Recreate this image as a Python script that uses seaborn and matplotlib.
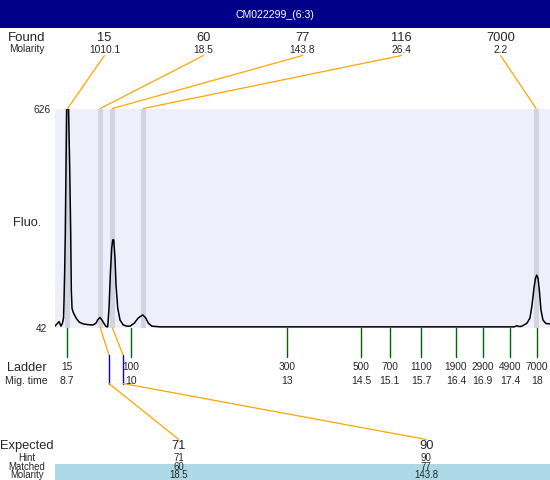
import numpy as np
import pandas as pd
import matplotlib
matplotlib.use("Agg")
import matplotlib.pyplot as plt
import seaborn as sns
from matplotlib.patches import Rectangle

# ---------------- data ----------------
title = "CM022299_(6:3)"

found_sizes = ["15", "60", "77", "116", "7000"]
found_molarity = ["1010.1", "18.5", "143.8", "26.4", "2.2"]
found_times = [8.71, 9.36, 9.60, 10.21, 17.99]

ladder_sizes = ["15", "100", "300", "500", "700", "1100", "1900", "2900", "4900", "7000"]
ladder_times = [8.70, 9.96, 13.05, 14.52, 15.09, 15.71, 16.40, 16.93, 17.48, 18.00]
ladder_time_labels = ["8.7", "10", "13", "14.5", "15.1", "15.7", "16.4", "16.9", "17.4", "18"]

expected_sizes = ["71", "90"]
hint_sizes = ["71", "90"]
matched_sizes = ["60", "77"]
matched_molarity = ["18.5", "143.8"]
expected_times = [9.53, 9.81]
matched_found_index = [1, 2]

trace_time = [8.462, 8.502, 8.542, 8.581, 8.611, 8.631, 8.641, 8.654, 8.666, 8.680,
              8.694, 8.730, 8.753, 8.773, 8.785, 8.799, 8.819, 8.839, 8.878, 8.938,
              9.017, 9.116, 9.215, 9.274, 9.314, 9.353, 9.393, 9.433, 9.472, 9.506,
              9.532, 9.557, 9.585, 9.605, 9.625, 9.650, 9.670, 9.704, 9.750, 9.815,
              9.882, 9.948, 10.033, 10.112, 10.199, 10.258, 10.310, 10.377, 10.542, 12.0,
              14.0, 16.0, 17.551, 17.611, 17.650, 17.690, 17.749, 17.809, 17.868, 17.908,
              17.947, 17.977, 18.001, 18.026, 18.056, 18.085, 18.125, 18.184, 18.264]
trace_fluo = [47, 53, 59, 47, 55, 69, 117, 197, 295, 471,
              626, 626, 471, 295, 143, 95, 85, 79, 69, 58,
              53, 51, 50, 55, 65, 70, 63, 54, 46, 45,
              95, 183, 255, 277, 277, 229, 157, 95, 63, 50,
              47, 47, 55, 69, 77, 69, 55, 47, 45, 45,
              45, 45, 45, 48, 46, 46, 50, 55, 69, 103,
              149, 175, 183, 175, 138, 90, 63, 54, 53]

fluo_min, fluo_max = 42, 626
time_min, time_max = 8.462, 18.264

# ---------------- style ----------------
sns.set_style("white")
plt.rcParams["font.family"] = ["Liberation Sans", "DejaVu Sans"]

W, H = 550, 480
fig = plt.figure(figsize=(W / 100, H / 100), dpi=100)
fig.patch.set_facecolor("white")

ax = fig.add_axes([55 / W, 1 - 328 / H, 495 / W, 219 / H])
ov = fig.add_axes([0, 0, 1, 1])
ov.set_xlim(0, W)
ov.set_ylim(H, 0)
ov.axis("off")
ov.patch.set_alpha(0)

ORANGE = "#FFA500"
GREEN = "#006400"
BLUE = "#0000EE"
BAND = "#D3D3E1"

ax.set_facecolor("#EFEFFC")
for s in ax.spines.values():
    s.set_visible(False)
ax.set_xlim(time_min, time_max)
ax.set_ylim(fluo_min, fluo_max)

for t in found_times:
    ax.axvspan(t - 0.05, t + 0.05, color=BAND, lw=0, zorder=1)

df = pd.DataFrame({"time": trace_time, "fluo": trace_fluo})
sns.lineplot(data=df, x="time", y="fluo", ax=ax, color="black", lw=1.1,
             estimator=None, sort=False, zorder=3)
ax.set_xlabel("")
ax.set_ylabel("")
ax.set_xticks([])
ax.set_yticks([fluo_min, fluo_max])
ax.set_yticklabels([str(fluo_min), str(fluo_max)], fontsize=7.4)
ax.tick_params(axis="y", length=0, pad=9.5)
for lab in ax.get_yticklabels():
    lab.set_horizontalalignment("center")


def px(t):
    return ov.transData.inverted().transform(ax.transData.transform((t, fluo_min)))[0]


def colx(i, n):
    return ov.transData.inverted().transform(ax.transAxes.transform(((i + 0.5) / n, 0)))[0]


# title bar
ov.add_patch(Rectangle((0, 0), W, 27.5, color="#000088", lw=0))
ov.text(W / 2, 14.5, title, color="white", fontsize=7.6, ha="center", va="center")

# header rows
ov.text(27, 41.4, "Found", fontsize=9.5, ha="center", va="baseline")
ov.text(27, 52, "Molarity", fontsize=7.3, ha="center", va="baseline")
n = len(found_sizes)
for i, (sz, mol, t) in enumerate(zip(found_sizes, found_molarity, found_times)):
    cx = colx(i, n)
    ov.text(cx, 41.4, sz, fontsize=9.3, ha="center", va="baseline")
    ov.text(cx, 53, mol, fontsize=7.4, ha="center", va="baseline")
    ov.plot([cx, px(t)], [55.5, 108.5], color=ORANGE, lw=0.9)

ov.text(27, 225.5, "Fluo.", fontsize=9.2, ha="center", va="baseline")

# ladder
ov.text(27, 371, "Ladder", fontsize=9.2, ha="center", va="baseline")
ov.text(26.5, 384, "Mig. time", fontsize=7.6, ha="center", va="baseline")
for sz, t, lab in zip(ladder_sizes, ladder_times, ladder_time_labels):
    x = px(t)
    ov.plot([x, x], [328, 357], color=GREEN, lw=1.0)
    ov.text(x, 370, sz, fontsize=7.3, ha="center", va="baseline")
    ov.text(x, 384.5, lab, fontsize=7.5, ha="center", va="baseline")

# expected section
ov.add_patch(Rectangle((55, 464), W - 55, H - 464, color="#ADD8E6", lw=0))
ov.text(27, 449.3, "Expected", fontsize=9.3, ha="center", va="baseline")
ov.text(26.5, 460.9, "Hint", fontsize=6.9, ha="center", va="baseline")
ov.text(26.5, 469.6, "Matched", fontsize=6.9, ha="center", va="baseline")
ov.text(27, 478.3, "Molarity", fontsize=6.9, ha="center", va="baseline")
m = len(expected_sizes)
for j in range(m):
    cx = colx(j, m)
    ex = px(expected_times[j])
    fx = px(found_times[matched_found_index[j]])
    ov.plot([fx, ex], [328, 355], color=ORANGE, lw=0.9)
    ov.plot([ex, ex], [355, 383.5], color=BLUE, lw=1.0)
    ov.plot([ex, cx], [383.5, 439.5], color=ORANGE, lw=0.9)
    ov.text(cx, 449.3, expected_sizes[j], fontsize=9.3, ha="center", va="baseline")
    ov.text(cx, 460.9, hint_sizes[j], fontsize=6.9, ha="center", va="baseline")
    ov.text(cx, 469.6, matched_sizes[j], fontsize=6.9, ha="center", va="baseline")
    ov.text(cx, 478.3, matched_molarity[j], fontsize=6.9, ha="center", va="baseline")

fig.savefig("out.png", dpi=100)
